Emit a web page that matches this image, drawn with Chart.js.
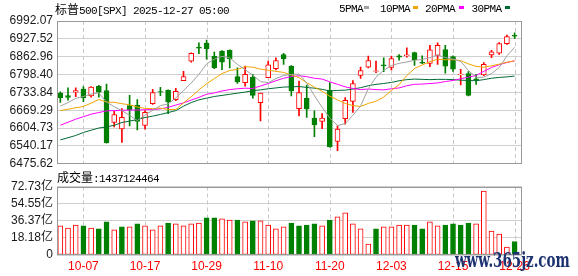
<!DOCTYPE html>
<html><head><meta charset="utf-8">
<script src="https://cdn.jsdelivr.net/npm/chart.js@4.4.1/dist/chart.umd.min.js"></script>
<style>
html,body{margin:0;padding:0;background:#fff;}
#wrap{position:relative;width:578px;height:276px;overflow:hidden;background:#fff;}
.txt{position:absolute;white-space:nowrap;line-height:12px;color:#000;}
.a{font-family:"Liberation Mono",monospace;font-size:11px;letter-spacing:-0.6px;}
.c{font-family:"Noto Sans CJK SC",sans-serif;font-size:12px;}
.mk{position:absolute;width:5px;height:3px;}
canvas{position:absolute;left:0;}
#wm{position:absolute;left:455px;top:250px;font-family:"DejaVu Serif",serif;font-weight:bold;font-size:20px;line-height:20px;color:#1c3170;white-space:nowrap;transform-origin:0 0;}
</style></head>
<body><div id="wrap">
<canvas id="main" width="578" height="175" style="top:0"></canvas>
<canvas id="vol" width="578" height="106" style="top:170px"></canvas>
<div class="txt" id="title" style="left:55px;top:3px"><span class="c" id="tCjk"></span><span class="a" id="tAsc"></span></div>
<div id="legend"></div>
<div class="txt" id="volTitle" style="left:57px;top:171px"><span class="c">成交量</span><span class="a" id="volVal"></span></div>
<div id="wm">www.365jz.com</div>
</div>
<script>
// ---------- data ----------
const titleName = '标普';
const titleRest = '500[SPX] 2025-12-27 05:00';
const dates = ['10-02','10-03','10-06','10-07','10-08','10-09','10-10','10-13','10-14','10-15','10-16','10-17','10-20','10-21','10-22','10-23','10-24','10-27','10-28','10-29','10-30','10-31','11-03','11-04','11-05','11-06','11-07','11-10','11-11','11-12','11-13','11-14','11-17','11-18','11-19','11-20','11-21','11-24','11-25','11-26','11-28','12-01','12-02','12-03','12-04','12-05','12-08','12-09','12-10','12-11','12-12','12-15','12-16','12-17','12-18','12-19','12-22','12-23','12-24','12-26'];
const openP  = [6731,6722,6735,6746,6721,6756,6740,6625,6602,6686,6687,6614,6693,6737,6741,6708,6776,6847,6898,6912,6864,6883,6886,6791,6769,6788,6697,6787,6820,6871,6829,6675,6712,6641,6629,6742,6557,6639,6701,6795,6825,6810,6834,6824,6866,6866,6878,6843,6839,6868,6889,6863,6798,6802,6783,6797,6869,6876,6910,6940];
const highP  = [6736,6750,6750,6755,6755,6759,6764,6665,6675,6723,6708,6668,6745,6752,6743,6749,6810,6877,6913,6923,6880,6885,6888,6823,6829,6799,6731,6847,6859,6875,6831,6775,6760,6667,6657,6769,6613,6715,6777,6825,6865,6847,6859,6865,6871,6895,6880,6866,6904,6913,6904,6866,6817,6809,6799,6842,6886,6914,6941,6949];
const lowP   = [6698,6706,6718,6700,6717,6717,6550,6609,6553,6613,6598,6601,6690,6722,6657,6704,6776,6843,6874,6854,6820,6816,6822,6766,6756,6713,6631,6787,6815,6835,6721,6649,6643,6574,6603,6536,6523,6619,6661,6784,6822,6805,6809,6815,6850,6861,6831,6838,6827,6835,6803,6810,6761,6721,6763,6794,6859,6871,6907,6929];
const closeP = [6715,6716,6740,6714,6753,6735,6552,6654,6644,6671,6629,6662,6733,6735,6699,6738,6791,6875,6894,6892,6823,6843,6856,6772,6799,6723,6731,6834,6849,6856,6739,6733,6674,6616,6641,6537,6601,6705,6766,6813,6849,6812,6830,6856,6861,6870,6852,6840,6888,6904,6829,6818,6800,6723,6780,6835,6881,6910,6936,6937];
const ma5  = [6684,6697,6712,6719,6728,6732,6699,6682,6668,6651,6632,6652,6669,6686,6692,6714,6740,6768,6799,6837,6854,6864,6859,6835,6816,6796,6773,6769,6784,6795,6799,6800,6768,6722,6680,6641,6614,6621,6651,6685,6747,6789,6814,6831,6839,6844,6850,6853,6860,6869,6860,6854,6846,6813,6788,6789,6802,6824,6866,6897];
const ma10 = [6668,6673,6678,6683,6695,6708,6699,6698,6693,6689,6681,6676,6675,6677,6672,6672,6696,6718,6743,6765,6784,6802,6813,6817,6827,6825,6818,6814,6810,6806,6797,6787,6769,6753,6738,6720,6707,6694,6686,6683,6694,6702,6717,6741,6762,6795,6820,6833,6845,6854,6852,6852,6849,6837,6828,6825,6830,6836,6843,6848];
const ma20 = [6615,6626,6637,6646,6655,6661,6667,6668,6669,6670,6670,6671,6672,6674,6680,6688,6696,6706,6716,6727,6732,6739,6744,6747,6749,6748,6757,6766,6776,6785,6791,6794,6791,6785,6782,6772,6763,6754,6748,6744,6746,6744,6743,6747,6750,6758,6763,6764,6766,6768,6773,6777,6783,6789,6795,6810,6824,6834,6842,6848];
const ma30 = [6562,6570,6578,6589,6597,6605,6609,6615,6625,6630,6636,6643,6648,6654,6661,6668,6684,6697,6707,6713,6719,6723,6727,6731,6735,6740,6743,6747,6750,6753,6754,6755,6752,6749,6745,6739,6741,6742,6746,6751,6758,6763,6766,6770,6776,6780,6782,6781,6780,6781,6781,6780,6778,6777,6776,6780,6785,6788,6790,6793];
const volumes = [30.9e8,28.7e8,31.9e8,30.9e8,28.7e8,27.7e8,35.1e8,26.6e8,29.8e8,29.8e8,33.0e8,30.9e8,26.6e8,30.9e8,34.0e8,33.0e8,30.9e8,33.0e8,34.0e8,39.4e8,39.4e8,38.3e8,37.2e8,37.2e8,35.1e8,36.2e8,36.2e8,31.9e8,27.7e8,29.8e8,34.0e8,30.9e8,31.9e8,33.0e8,30.9e8,37.2e8,40.4e8,44.7e8,33.0e8,27.7e8,11.7e8,27.7e8,29.8e8,29.8e8,31.9e8,31.9e8,31.9e8,27.7e8,35.1e8,30.9e8,31.9e8,33.0e8,31.9e8,34.0e8,33.0e8,67.8e8,25.5e8,22.3e8,8.5e8,1437124464];
const volumeUp = [1,1,1,0,1,0,0,1,0,1,0,1,1,1,0,1,1,1,1,0,0,1,1,0,1,0,1,1,1,1,0,0,0,0,1,0,1,1,1,1,1,0,1,1,1,1,0,0,1,1,0,0,0,0,1,1,1,1,1,0];
const xTickLabels = ['10-07','10-17','10-29','11-10','11-20','12-03','12-15','12-26'];
const yTickLabels = ['6475.62','6540.17','6604.73','6669.29','6733.84','6798.40','6862.96','6927.52','6992.07'];
const volTickLabels = ['0','18.18亿','36.37亿','54.55亿','72.73亿'];
const maNames = ['5PMA','10PMA','20PMA','30PMA'];

// ---------- styles ----------
const RED='#ff0000', GREEN='#008000';
const maColors=['#a0a0a0','#f2a500','#ff00ff','#006b33'];
const X_MIN=-0.43, X_MAX=59.96;
const FONT="'Liberation Sans','Noto Sans CJK SC',sans-serif";

document.getElementById('tCjk').textContent=titleName;
document.getElementById('tAsc').textContent=titleRest;
document.getElementById('volVal').textContent=':'+volumes[volumes.length-1];
const legPos=[[339,364],[380,413],[425,458.5],[471.5,504.5]];
const leg=document.getElementById('legend');
maNames.forEach((n,k)=>{
  const s=document.createElement('div'); s.className='txt a'; s.style.left=legPos[k][0]+'px'; s.style.top='3px'; s.textContent=n; leg.appendChild(s);
  const m=document.createElement('div'); m.className='mk'; m.style.left=legPos[k][1]+'px'; m.style.top='6px'; m.style.background=maColors[k]; leg.appendChild(m);
});
const wm=document.getElementById('wm'); wm.style.transform='scaleX('+(115/wm.scrollWidth)+')';

const tickIdx = xTickLabels.map(l=>dates.indexOf(l));
const yTickVals = yTickLabels.map(parseFloat);
const volTickVals = volTickLabels.map(s=>parseFloat(s)*1e8);
const isUp = openP.map((o,i)=>closeP[i]>=o);

// frame + dashed vertical grid lines at the x scale's ticks
const frame={id:'frame',
  beforeDatasetsDraw(chart){const c=chart.ctx,a=chart.chartArea,xs=chart.scales.x;c.save();c.strokeStyle='#c8c8c8';c.lineWidth=1;c.setLineDash([4,3]);
    xs.ticks.forEach(t=>{const px=Math.round(xs.getPixelForValue(t.value))+0.5;c.beginPath();c.moveTo(px,a.top);c.lineTo(px,a.bottom);c.stroke();});c.restore();},
  afterDraw(chart){const c=chart.ctx,a=chart.chartArea;c.save();c.strokeStyle='#999';c.lineWidth=1;
  c.strokeRect(Math.round(a.left)+0.5,Math.round(a.top)+0.5,Math.round(a.right)-Math.round(a.left)-1,Math.round(a.bottom)-Math.round(a.top)-1);c.restore();}};

const xScaleBase = (showLabels)=>({
  type:'linear', min:X_MIN, max:X_MAX, offset:false,
  afterBuildTicks:s=>{s.ticks=tickIdx.map(v=>({value:v}));},
  ticks:{display:showLabels, autoSkip:false, maxRotation:0, padding:4, color:RED,
         font:{family:FONT,size:12}, callback:(v)=>dates[v]},
  grid:{display:false, drawTicks:false, offset:false},
  border:{display:false},
  afterFit:s=>{s.height= showLabels?21:0;}
});
const yTicks = (labels)=>({padding:4,color:'#1a1a1a',autoSkip:false,font:{family:FONT,size:12},callback:(v,i)=>labels[i]});

Chart.defaults.font.family=FONT;
new Chart(document.getElementById('main'),{
  data:{datasets:[
    ...[ma5,ma10,ma20,ma30].map((arr,k)=>({type:'line',label:maNames[k],data:arr.map((v,i)=>({x:i,y:v})),
       borderColor:maColors[k],borderWidth:1,pointRadius:0,tension:0,order:0})),
    {type:'bar',label:'body',data:openP.map((o,i)=>({x:i,y:[o,closeP[i]]})),
      backgroundColor:isUp.map(u=>u?'#ffffff':GREEN),borderColor:isUp.map(u=>u?RED:GREEN),
      borderWidth:1,borderSkipped:false,barThickness:5,grouped:false,order:1},
    {type:'bar',label:'wick',data:lowP.map((l,i)=>({x:i,y:[l,highP[i]]})),
      backgroundColor:isUp.map(u=>u?RED:GREEN),barThickness:1,grouped:false,order:2}
  ]},
  options:{responsive:false,animation:false,devicePixelRatio:1,
    layout:{padding:{left:0,right:56,top:21,bottom:10}},
    plugins:{legend:{display:false},tooltip:{enabled:false}},
    scales:{
      x:xScaleBase(false),
      y:{min:yTickVals[0],max:yTickVals[yTickVals.length-1],
        afterBuildTicks:s=>{s.ticks=yTickVals.map(v=>({value:v}));},
        ticks:yTicks(yTickLabels),
        grid:{color:'#d0d0d0',drawTicks:false},border:{display:false},
        afterFit:s=>{s.width=57;}}
    }},
  plugins:[frame]
});

new Chart(document.getElementById('vol'),{
  type:'bar',
  data:{datasets:[{label:'vol',data:volumes.map((v,i)=>({x:i,y:v})),
    backgroundColor:volumeUp.map(u=>u?'#ffffff':GREEN),borderColor:volumeUp.map(u=>u?RED:GREEN),
    borderWidth:1,borderSkipped:false,barThickness:5,grouped:false}]},
  options:{responsive:false,animation:false,devicePixelRatio:1,
    layout:{padding:{left:0,right:56,top:16.5,bottom:0}},
    plugins:{legend:{display:false},tooltip:{enabled:false}},
    scales:{
      x:xScaleBase(true),
      y:{min:0,max:volTickVals[volTickVals.length-1],
        afterBuildTicks:s=>{s.ticks=volTickVals.map(v=>({value:v}));},
        ticks:yTicks(volTickLabels),
        grid:{color:'#d0d0d0',drawTicks:false},border:{display:false},
        afterFit:s=>{s.width=57;}}
    }},
  plugins:[frame]
});
</script>
</body></html>
